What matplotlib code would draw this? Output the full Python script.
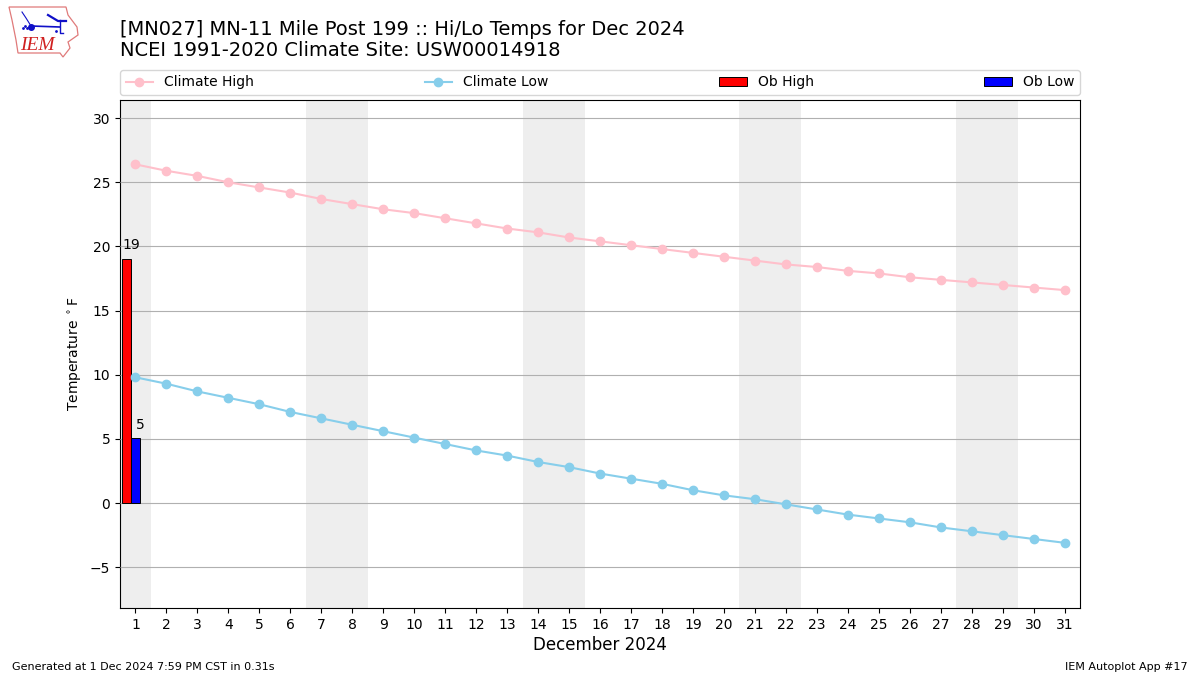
import matplotlib
matplotlib.use("Agg")
import matplotlib.pyplot as plt
from matplotlib.lines import Line2D
from matplotlib.patches import Patch, Polygon

days = list(range(1, 32))
climate_high = [26.4, 25.9, 25.5, 25.0, 24.6, 24.2, 23.7, 23.3, 22.9, 22.6, 22.2, 21.8, 21.4, 21.1, 20.7, 20.4,
                20.1, 19.8, 19.5, 19.2, 18.9, 18.6, 18.4, 18.1, 17.9, 17.6, 17.4, 17.2, 17.0, 16.8, 16.6]
climate_low = [9.8, 9.3, 8.7, 8.2, 7.7, 7.1, 6.6, 6.1, 5.6, 5.1, 4.6, 4.1, 3.7, 3.2, 2.8, 2.3,
               1.9, 1.5, 1.0, 0.6, 0.3, -0.1, -0.5, -0.9, -1.2, -1.5, -1.9, -2.2, -2.5, -2.8, -3.1]
ob_days = [1]
ob_high = [19]
ob_low = [5.1]
# weekend shading, the first one is only the Sunday
weekend_spans = [(0.5, 1.5), (6.5, 8.5), (13.5, 15.5), (20.5, 22.5), (27.5, 29.5)]
# outline of the state shape behind the logo, rough
logo_outline = [(9, 7), (66, 7), (68, 15), (77, 27), (78, 35), (68, 42), (70, 48), (63, 57),
                (60, 53), (18, 53), (16, 40), (12, 20)]

fig = plt.figure(figsize=(12, 6.75), dpi=100)
ax = fig.add_axes([0.1, 0.0993, 0.8, 0.7526])

for start, end in weekend_spans:
    ax.axvspan(start, end, color="#eeeeee", zorder=1, lw=0)

ax.grid(axis="y", color="#b0b0b0", lw=0.8, zorder=2)
ax.set_axisbelow(False)
for line in ax.get_ygridlines():
    line.set_zorder(2)

for d, hi, lo in zip(ob_days, ob_high, ob_low):
    ax.bar(d - 0.29, hi, width=0.29, color="red", edgecolor="k", lw=0.7, zorder=3)
    ax.bar(d, lo, width=0.29, color="blue", edgecolor="k", lw=0.7, zorder=3)
    ax.text(d - 0.15, hi + 0.55, f"{hi:.0f}", ha="center", va="bottom", fontsize=10, zorder=5)
    ax.text(d + 0.15, lo + 0.47, f"{lo:.0f}", ha="center", va="bottom", fontsize=10, zorder=5)

ax.plot(days, climate_high, color="pink", marker="o", ms=6, lw=1.5, zorder=4)
ax.plot(days, climate_low, color="skyblue", marker="o", ms=6, lw=1.5, zorder=4)

ax.set_xlim(0.5, 31.5)
ax.set_ylim(-8.18, 31.42)
ax.set_xticks(days)
ax.set_yticks([-5, 0, 5, 10, 15, 20, 25, 30])
ax.set_yticklabels(["\u22125", "0", "5", "10", "15", "20", "25", "30"])
ax.set_ylabel("Temperature $^\\circ$F", fontsize=10)
ax.yaxis.set_label_coords(-0.037, 0.5)
ax.set_xlabel("December 2024", fontsize=12, labelpad=3)

handles = [
    Line2D([], [], color="pink", marker="o", ms=6, lw=1.5),
    Line2D([], [], color="skyblue", marker="o", ms=6, lw=1.5),
    Patch(facecolor="red", edgecolor="k", lw=0.7),
    Patch(facecolor="blue", edgecolor="k", lw=0.7),
]
labels = ["Climate High", "Climate Low", "Ob High", "Ob Low"]
ax.legend(handles, labels, ncol=4, mode="expand", loc="lower left",
          bbox_to_anchor=(0, 1.0098, 1, 0.05), borderaxespad=0, fontsize=10)

fig.text(0.1, 0.957, "[MN027] MN-11 Mile Post 199 :: Hi/Lo Temps for Dec 2024", fontsize=14, va="center")
fig.text(0.1, 0.925, "NCEI 1991-2020 Climate Site: USW00014918", fontsize=14, va="center")
fig.text(0.01, 0.0075, "Generated at 1 Dec 2024 7:59 PM CST in 0.31s", fontsize=8)
fig.text(0.99, 0.0075, "IEM Autoplot App #17", fontsize=8, ha="right")

# small logo drawn in figure pixels
logo = fig.add_axes([0, 0.9, 0.07, 0.1])
logo.set_xlim(0, 84)
logo.set_ylim(67.5, 0)
logo.axis("off")
logo.add_patch(Polygon(logo_outline, closed=True, fill=False, ec="#e07a7a", lw=0.9))
logo.plot([31, 60], [26, 27], color="#1010c8", lw=1.2)
logo.plot([60, 60, 63], [20, 33, 33], color="#1010c8", lw=1)
logo.plot([48, 58, 66], [15, 21, 21], color="#1010c8", lw=1.6)
logo.plot([22, 26, 31], [12, 18, 26], color="#1010c8", lw=0.8)
logo.plot([31], [26.5], "o", color="#1010c8", ms=4)
logo.plot([23, 25, 27, 56], [28, 26, 28, 31], ".", color="#1010c8", ms=2)
logo.text(37.5, 45, "IEM", color="#d02020", fontsize=14, family="Liberation Serif", style="italic",
          ha="center", va="center")

fig.savefig("out.png", dpi=100)
